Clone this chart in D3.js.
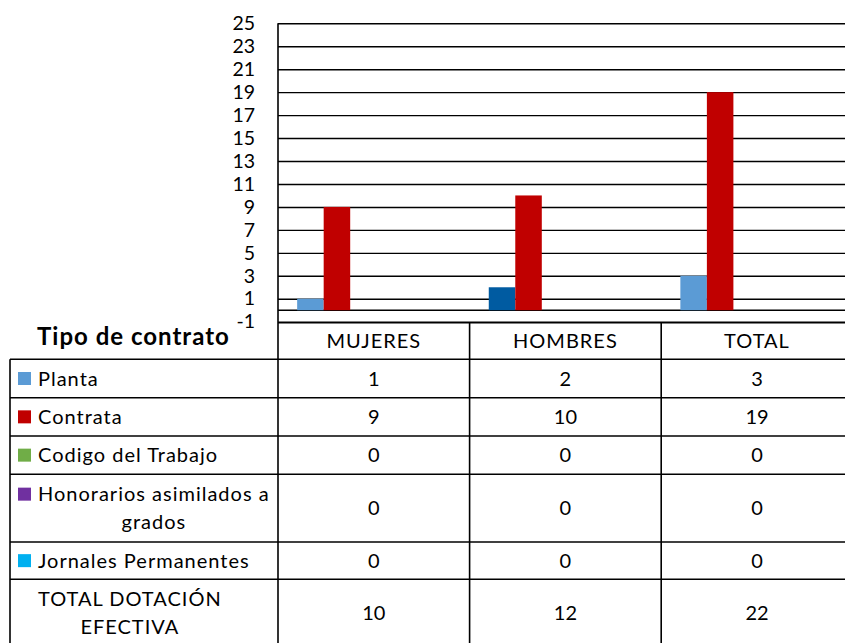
<!DOCTYPE html>
<html>
<head>
<meta charset="utf-8">
<script src="https://cdn.jsdelivr.net/npm/d3@7"></script>
<style>
  body { margin: 0; background: #fff; }
  svg text { font-family: Lato, "Open Sans", sans-serif; fill: #000; }
</style>
</head>
<body>
<div id="chart"></div>
<script>
// Data
const categories = ["MUJERES", "HOMBRES", "TOTAL"];
const seriesNames = ["Planta", "Contrata", "Codigo del Trabajo", "Honorarios asimilados a grados", "Jornales Permanentes"];
const planta = [1, 2, 3];
const contrata = [9, 10, 19];
const codigo = [0, 0, 0];
const honorarios = [0, 0, 0];
const jornales = [0, 0, 0];
const totals = [10, 12, 22];
const totalLabel = "TOTAL DOTACIÓN EFECTIVA";
const yTicks = [-1, 1, 3, 5, 7, 9, 11, 13, 15, 17, 19, 21, 23, 25];

const seriesValues = [planta, contrata, codigo, honorarios, jornales];
const seriesColors = ["#5B9BD5", "#C00000", "#70AD47", "#7030A0", "#00B0F0"];
// Excel point override: Planta / HOMBRES is darker blue
const pointColors = { "Planta|HOMBRES": "#005BA1" };

// label lines for the data table rows (wrapping as in the picture)
const rowLines = [["Planta"], ["Contrata"], ["Codigo del Trabajo"], ["Honorarios asimilados a", "grados"], ["Jornales Permanentes"], ["TOTAL DOTACIÓN", "EFECTIVA"]];

const width = 845;
const height = 643;

const svg = d3.select("#chart").append("svg")
    .attr("width", width)
    .attr("height", height);

const plotLeft = 278;
const colW = 191.6;
const fs = 20;      // table font size
const ls = 1;       // letter spacing to get Calibri-like widths

const x = d3.scaleBand().domain(categories).range([plotLeft, plotLeft + colW * 3]);
const bw = x.bandwidth();
const xs = d3.scaleBand().domain(seriesNames).range([0.1 * bw, 0.792 * bw]);
const y = d3.scaleLinear().domain([-1, 25]).range([321.7, 23.3]);

// gridlines + tick labels
const yAxis = svg.append("g")
    .attr("transform", `translate(${plotLeft},0)`)
    .call(d3.axisLeft(y).tickValues(yTicks).tickSize(-(width - plotLeft)).tickPadding(23)
      .tickFormat(d => String(d)));
yAxis.select(".domain").remove();
yAxis.selectAll(".tick line").attr("stroke", "#000").attr("stroke-width", 1.4);
yAxis.selectAll(".tick text")
    .attr("font-size", 19.5)
    .style("font-family", "Lato, sans-serif");

// zero line
svg.append("line")
    .attr("x1", plotLeft).attr("x2", width)
    .attr("y1", y(0)).attr("y2", y(0))
    .attr("stroke", "#000").attr("stroke-width", 1.4);

// bars
seriesNames.forEach((name, si) => {
  svg.append("g").selectAll("rect")
    .data(categories.map((c, i) => ({ c, v: seriesValues[si][i] })).filter(d => d.v !== 0))
    .enter().append("rect")
    .attr("x", d => x(d.c) + xs(name))
    .attr("width", xs.bandwidth())
    .attr("y", d => y(Math.max(0, d.v)))
    .attr("height", d => Math.abs(y(d.v) - y(0)))
    .attr("fill", d => pointColors[name + "|" + d.c] || seriesColors[si]);
});

// data table
const rowTops = [322.7, 359.3, 397.7, 436, 474.3, 542, 579.3, 647];
const tableLeft = 10;
const tableRight = plotLeft + colW * 3;
const lineStyle = sel => sel.attr("stroke", "#000").attr("stroke-width", 1.6);

// horizontal lines: header top only across value columns
svg.append("line").attr("x1", plotLeft).attr("x2", tableRight)
    .attr("y1", rowTops[0]).attr("y2", rowTops[0]).call(lineStyle);
rowTops.slice(1).forEach(t => {
  svg.append("line").attr("x1", tableLeft).attr("x2", tableRight)
      .attr("y1", t).attr("y2", t).call(lineStyle);
});
// vertical lines
svg.append("line").attr("x1", plotLeft).attr("x2", plotLeft)
    .attr("y1", y(25)).attr("y2", rowTops[7]).call(lineStyle);
svg.append("line").attr("x1", tableLeft).attr("x2", tableLeft)
    .attr("y1", rowTops[1]).attr("y2", rowTops[7]).call(lineStyle);
categories.forEach(c => {
  svg.append("line").attr("x1", x(c) + bw).attr("x2", x(c) + bw)
      .attr("y1", rowTops[0]).attr("y2", rowTops[7]).call(lineStyle);
});

// header
svg.append("text")
    .attr("x", 37).attr("y", 345)
    .attr("font-size", 24).attr("font-weight", "bold")
    .attr("letter-spacing", 1)
    .text("Tipo de contrato");

svg.append("g").selectAll("text")
  .data(categories)
  .enter().append("text")
    .attr("x", d => x(d) + bw / 2)
    .attr("y", (rowTops[0] + rowTops[1]) / 2)
    .attr("dy", "0.35em")
    .attr("text-anchor", "middle")
    .attr("font-size", fs)
    .attr("letter-spacing", ls)
    .text(d => d);

// row labels + values
const rowValues = seriesValues.concat([totals]);
const lineH = 28;
rowValues.forEach((vals, ri) => {
  const top = rowTops[ri + 1], bot = rowTops[ri + 2];
  const mid = (top + bot) / 2;
  const lines = rowLines[ri];
  const firstY = mid - (lines.length - 1) * lineH / 2;
  const textX = 38;

  const g = svg.append("g");
  const texts = g.selectAll("text").data(lines).enter().append("text")
      .attr("y", (d, i) => firstY + i * lineH)
      .attr("dy", "0.35em")
      .attr("font-size", fs)
      .attr("letter-spacing", ls)
      .attr("text-anchor", "middle")
      .text(d => d);
  const maxW = d3.max(texts.nodes(), n => n.getComputedTextLength());
  texts.attr("x", textX + maxW / 2);

  if (ri < seriesNames.length) {
    g.append("rect")
      .attr("x", 18).attr("y", firstY - 6.5)
      .attr("width", 13).attr("height", 13)
      .attr("fill", seriesColors[ri]);
  }

  svg.append("g").selectAll("text")
    .data(vals)
    .enter().append("text")
      .attr("x", (d, i) => x(categories[i]) + bw / 2)
      .attr("y", mid)
      .attr("dy", "0.35em")
      .attr("text-anchor", "middle")
      .attr("font-size", fs)
      .text(d => d);
});
</script>
</body>
</html>
